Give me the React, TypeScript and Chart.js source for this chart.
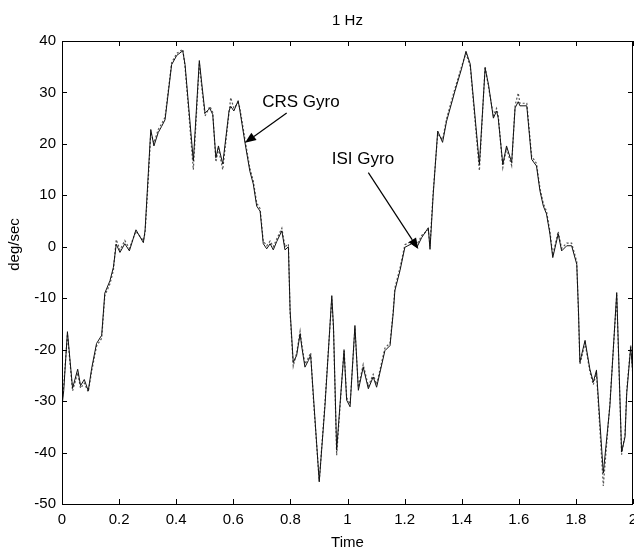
import React, { useEffect, useRef } from "react";
import { Chart, registerables } from "chart.js";

Chart.register(...registerables);

// ---- Data ----
const times = [
  0.0, 0.006, 0.019, 0.037, 0.055, 0.065, 0.078, 0.092, 0.104, 0.121, 0.139, 0.15, 0.168, 0.18,
  0.19, 0.203, 0.22, 0.236, 0.259, 0.285, 0.291, 0.302, 0.311, 0.322, 0.337, 0.349, 0.361, 0.384,
  0.402, 0.423, 0.431, 0.46, 0.481, 0.489, 0.501, 0.518, 0.528, 0.539, 0.548, 0.563, 0.585, 0.591,
  0.602, 0.617, 0.623, 0.641, 0.658, 0.67, 0.682, 0.694, 0.705, 0.717, 0.729, 0.74, 0.752, 0.77,
  0.781, 0.793, 0.799, 0.81, 0.822, 0.834, 0.84, 0.851, 0.863, 0.871, 0.88, 0.901, 0.921, 0.945,
  0.951, 0.962, 0.974, 0.988, 0.997, 1.009, 1.026, 1.038, 1.055, 1.073, 1.09, 1.102, 1.131, 1.149,
  1.16, 1.166, 1.184, 1.201, 1.225, 1.243, 1.26, 1.283, 1.289, 1.3, 1.316, 1.333, 1.347, 1.376,
  1.4, 1.415, 1.43, 1.462, 1.482, 1.494, 1.511, 1.522, 1.528, 1.544, 1.557, 1.575, 1.587, 1.598,
  1.604, 1.628, 1.645, 1.662, 1.674, 1.686, 1.697, 1.709, 1.719, 1.738, 1.75, 1.768, 1.785, 1.803,
  1.809, 1.814, 1.832, 1.849, 1.861, 1.872, 1.896, 1.919, 1.943, 1.96, 1.972, 1.978, 1.992, 2.0,
];

const crsGyro = [
  -31, -28, -16.5, -27.5, -23.8, -27, -25.8, -28, -23.6, -18.8, -17.2, -9, -6.6, -4,
  0.5, -1.1, 0.6, -0.8, 3.3, 0.8, 3.2, 14, 22.8, 19.6, 22.2, 23.4, 24.7, 35.4,
  37.2, 38.1, 35.4, 16.7, 36.2, 32, 26, 26.9, 25.7, 17.3, 19.6, 16.1, 26.4, 27.3,
  26.4, 28.4, 26.5, 20.2, 14.7, 12.2, 7.9, 6.9, 0.6, -0.4, 0.6, -0.6, 1, 3.1,
  -0.6, 0, -12.4, -22.5, -21.1, -16.9, -19.5, -23.4, -22.1, -21.1, -28.5, -45.7, -31, -9.5,
  -15.6, -39.5, -30.5, -20.2, -29.8, -31.1, -15.3, -27.9, -23.4, -27.6, -25.3, -27.3, -20.2, -19.2,
  -13, -8.5, -4.6, -0.1, 0.6, -0.1, 1.8, 3.7, -0.5, 10, 22.5, 20.3, 24.4, 30.2,
  34.7, 38, 35.5, 16, 34.7, 31.5, 25, 26.4, 25, 16, 19.6, 16.4, 27, 28.2,
  27.4, 27.4, 17, 15.7, 10.9, 7.9, 6.4, 2.5, -2.1, 2.5, -0.8, 0.2, 0.2, -3.4,
  -12.4, -22.4, -18.2, -23.8, -26.3, -24, -44, -31, -8.9, -39.9, -37, -28.5, -19.5, -25,
];

const isiGyro = [
  -30, -27, -17, -28, -24.5, -27.5, -26.5, -28.2, -24.2, -19.3, -17.8, -9.5, -7.2, -4.6,
  1.4, -0.6, 1.2, -0.3, 3.0, 1.2, 2.8, 13, 22.2, 20.2, 22.8, 23.9, 25.2, 35.8,
  37.6, 38.4, 35.0, 15, 35.7, 31.2, 25.4, 27.3, 26.1, 16.5, 19.1, 15, 26.0, 29,
  26.9, 28.0, 27.0, 20.8, 15.3, 12.8, 8.5, 7.4, 1.1, 0.2, 1.1, 0.0, 1.5, 3.6,
  0.0, 0.5, -13, -23.2, -20.6, -16.4, -19.0, -22.8, -21.6, -20.6, -29.2, -45.5, -30.4, -10.0,
  -16.2, -40.5, -31.0, -19.8, -29.3, -30.6, -15.8, -27.3, -22.9, -27.1, -24.8, -26.8, -19.7, -18.7,
  -12.5, -8.0, -4.1, 0.4, 1.1, 0.4, 2.2, 3.3, 0.1, 10.6, 22.0, 20.8, 24.9, 30.7,
  35.1, 37.6, 35.0, 14.8, 35.1, 31.0, 25.5, 26.9, 25.5, 15.4, 19.1, 15.8, 27.5, 29.9,
  27.9, 27.9, 17.6, 16.2, 11.4, 8.4, 6.9, 3.0, -1.6, 3.0, -0.3, 0.7, 0.7, -2.9,
  -12.9, -22.9, -18.7, -24.3, -26.8, -24.5, -46.5, -30.5, -9.4, -40.4, -36.5, -28.0, -19.0, -25.5,
];

const xTickValues = [0, 0.2, 0.4, 0.6, 0.8, 1, 1.2, 1.4, 1.6, 1.8, 2];
const xTickLabels = ["0", "0.2", "0.4", "0.6", "0.8", "1", "1.2", "1.4", "1.6", "1.8", "2"];
const yTickValues = [-50, -40, -30, -20, -10, 0, 10, 20, 30, 40];
const yTickLabels = ["-50", "-40", "-30", "-20", "-10", "0", "10", "20", "30", "40"];

const chartTitle = "1 Hz";
const xTitle = "Time";
const yTitle = "deg/sec";

// annotations: label text, label position, arrow start, arrow tip (data coords)
const annotationTexts = ["CRS Gyro", "ISI Gyro"];
const annotationLabelPos = [
  [0.837, 28.1],
  [1.054, 17.05],
];
const annotationArrowFrom = [
  [0.787, 26.0],
  [1.073, 14.4],
];
const annotationArrowTo = [
  [0.641, 20.2],
  [1.248, -0.45],
];

const FONT = "'Liberation Sans', Arial, Helvetica, sans-serif";

const framePlugin = {
  id: "matlabFrame",
  afterDatasetsDraw(chart: any) {
    const { ctx, chartArea, scales } = chart;
    const { left, right, top, bottom } = chartArea;
    const xs = scales.x;
    const ys = scales.y;
    ctx.save();
    ctx.strokeStyle = "#000";
    ctx.lineWidth = 1;
    // frame
    ctx.strokeRect(Math.round(left) + 0.5, Math.round(top) + 0.5, Math.round(right - left) - 1, Math.round(bottom - top));
    // ticks (inward)
    const tl = 5;
    ctx.beginPath();
    xTickValues.forEach((v) => {
      const px = Math.round(xs.getPixelForValue(v)) + 0.5;
      ctx.moveTo(px, bottom);
      ctx.lineTo(px, bottom - tl);
      ctx.moveTo(px, top);
      ctx.lineTo(px, top + tl);
    });
    yTickValues.forEach((v) => {
      const py = Math.round(ys.getPixelForValue(v)) + 0.5;
      ctx.moveTo(left, py);
      ctx.lineTo(left + tl, py);
      ctx.moveTo(right, py);
      ctx.lineTo(right - tl, py);
    });
    ctx.stroke();

    // annotations
    ctx.fillStyle = "#000";
    ctx.font = `17px ${FONT}`;
    ctx.textAlign = "center";
    ctx.textBaseline = "middle";
    annotationTexts.forEach((t, i) => {
      const lx = xs.getPixelForValue(annotationLabelPos[i][0]);
      const ly = ys.getPixelForValue(annotationLabelPos[i][1]);
      ctx.fillText(t, lx, ly);
      const x1 = xs.getPixelForValue(annotationArrowFrom[i][0]);
      const y1 = ys.getPixelForValue(annotationArrowFrom[i][1]);
      const x2 = xs.getPixelForValue(annotationArrowTo[i][0]);
      const y2 = ys.getPixelForValue(annotationArrowTo[i][1]);
      const ang = Math.atan2(y2 - y1, x2 - x1);
      const hl = 11;
      const hw = 4.5;
      const bx = x2 - hl * Math.cos(ang);
      const by = y2 - hl * Math.sin(ang);
      ctx.beginPath();
      ctx.moveTo(x1, y1);
      ctx.lineTo(bx, by);
      ctx.lineWidth = 1.2;
      ctx.stroke();
      ctx.beginPath();
      ctx.moveTo(x2, y2);
      ctx.lineTo(bx + hw * Math.sin(ang), by - hw * Math.cos(ang));
      ctx.lineTo(bx - hw * Math.sin(ang), by + hw * Math.cos(ang));
      ctx.closePath();
      ctx.fill();
    });

    // titles
    ctx.font = `15px ${FONT}`;
    ctx.textAlign = "center";
    ctx.textBaseline = "middle";
    const cx = (left + right) / 2;
    ctx.fillText(chartTitle, cx, 21);
    ctx.fillText(xTitle, cx, 543);
    ctx.save();
    ctx.translate(15, (top + bottom) / 2 - 28);
    ctx.rotate(-Math.PI / 2);
    ctx.fillText(yTitle, 0, 0);
    ctx.restore();
    ctx.restore();
  },
};

export default function App() {
  const ref = useRef<HTMLCanvasElement | null>(null);
  useEffect(() => {
    document.body.style.margin = "0";
    const canvas = ref.current;
    if (!canvas) return;
    const chart = new Chart(canvas, {
      type: "line",
      data: {
        datasets: [
          {
            label: "CRS Gyro",
            data: times.map((t, i) => ({ x: t, y: crsGyro[i] })),
            borderColor: "#111",
            borderWidth: 1,
            pointRadius: 0,
            tension: 0,
          },
          {
            label: "ISI Gyro",
            data: times.map((t, i) => ({ x: t, y: isiGyro[i] })),
            borderColor: "#555",
            borderWidth: 1.2,
            borderDash: [2, 2],
            pointRadius: 0,
            tension: 0,
          },
        ],
      },
      options: {
        responsive: false,
        animation: false,
        layout: { padding: { left: 0, top: 41, right: 1, bottom: 0 } },
        plugins: { legend: { display: false }, tooltip: { enabled: false }, title: { display: false } },
        scales: {
          x: {
            type: "linear",
            min: 0,
            max: 2,
            afterBuildTicks: (s: any) => {
              s.ticks = xTickValues.map((v) => ({ value: v }));
            },
            afterFit: (s: any) => {
              s.height = 48;
              s.paddingLeft = 0;
              s.paddingRight = 0;
            },
            ticks: {
              autoSkip: false,
              maxRotation: 0,
              padding: 7,
              color: "#000",
              font: { family: FONT, size: 15 },
              callback: (v: any) => {
                const i = xTickValues.findIndex((t) => Math.abs(t - Number(v)) < 1e-6);
                return i >= 0 ? xTickLabels[i] : "";
              },
            },
            grid: { display: false, drawTicks: false },
            border: { display: false },
          },
          y: {
            type: "linear",
            min: -50,
            max: 40,
            afterBuildTicks: (s: any) => {
              s.ticks = yTickValues.map((v) => ({ value: v }));
            },
            afterFit: (s: any) => {
              s.width = 62;
              s.paddingTop = 0;
              s.paddingBottom = 0;
            },
            ticks: {
              autoSkip: false,
              padding: 6,
              color: "#000",
              font: { family: FONT, size: 15 },
              callback: (v: any) => {
                const i = yTickValues.findIndex((t) => Math.abs(t - Number(v)) < 1e-6);
                return i >= 0 ? yTickLabels[i] : "";
              },
            },
            grid: { display: false, drawTicks: false },
            border: { display: false },
          },
        },
      },
      plugins: [framePlugin],
    } as any);
    return () => chart.destroy();
  }, []);
  return (
    <div style={{ width: 634, height: 552, background: "#fff" }}>
      <canvas ref={ref} width={634} height={552} style={{ display: "block" }} />
    </div>
  );
}
